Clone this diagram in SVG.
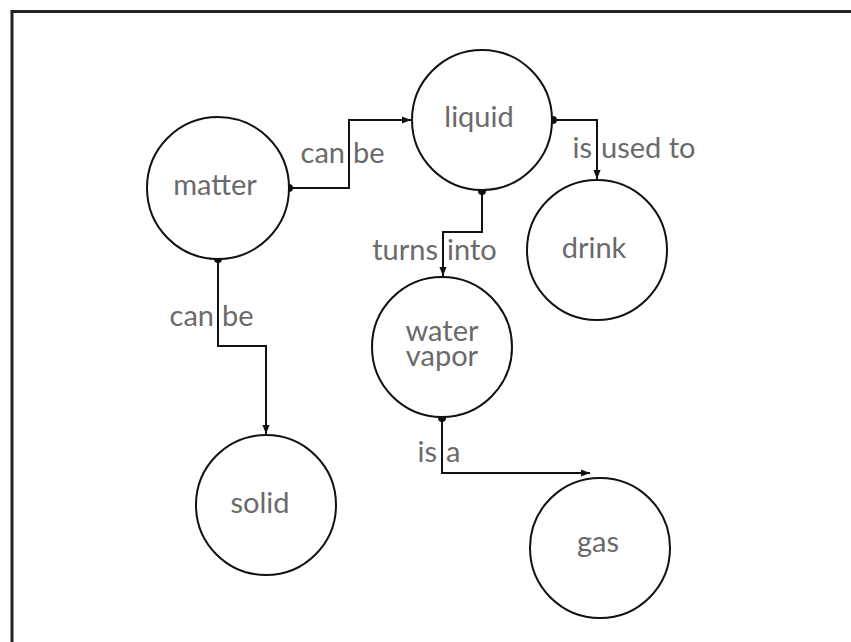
<svg xmlns="http://www.w3.org/2000/svg" width="851" height="642" viewBox="0 0 851 642">
<defs>
<style>
.node circle{fill:#fff;stroke:#111;stroke-width:2}
text{font-family:Lato,"Noto Sans","Liberation Sans",sans-serif;font-size:29px;fill:#6a6a6a}
.node text{text-anchor:middle}
.l{text-anchor:end}
.edge{fill:none;stroke:#111;stroke-width:2}
</style>
<marker id="arr" viewBox="0 0 10 10" refX="10" refY="5" markerWidth="9" markerHeight="9" markerUnits="userSpaceOnUse" orient="auto"><path d="M0,1 L10,5 L0,9 Z" fill="#111"/></marker>
<marker id="dot" viewBox="0 0 10 10" refX="5" refY="5" markerWidth="8" markerHeight="8" markerUnits="userSpaceOnUse"><circle cx="5" cy="5" r="5" fill="#111"/></marker>
</defs>
<rect width="851" height="642" fill="#fff"/>
<path d="M12,650 V11.5 H860" fill="none" stroke="#222" stroke-width="3"/>
<g id="connectors">
<path class="edge" d="M289,188 H349 V120 H411" marker-start="url(#dot)" marker-end="url(#arr)"/>
<path class="edge" d="M553,120 H597 V179" marker-start="url(#dot)" marker-end="url(#arr)"/>
<path class="edge" d="M218,259 V346 H266 V434" marker-start="url(#dot)" marker-end="url(#arr)"/>
<path class="edge" d="M482,191 V232 H443 V276" marker-start="url(#dot)" marker-end="url(#arr)"/>
<path class="edge" d="M442,418 V473 H590" marker-start="url(#dot)" marker-end="url(#arr)"/>
<text class="l" x="345" y="163">can</text><text x="353" y="163">be</text>
<text class="l" x="592" y="158">is</text><text x="601" y="158">used to</text>
<text class="l" x="214" y="326">can</text><text x="222" y="326">be</text>
<text class="l" x="438" y="260">turns</text><text x="447" y="260">into</text>
<text class="l" x="437" y="462">is</text><text x="446" y="462">a</text>
</g>
<g id="matter" class="node"><circle cx="218" cy="188" r="71"/><text x="215" y="195">matter</text></g>
<g id="liquid" class="node"><circle cx="482" cy="120" r="70"/><text x="479" y="127">liquid</text></g>
<g id="drink" class="node"><circle cx="597" cy="250" r="70"/><text x="594" y="258">drink</text></g>
<g id="water-vapor" class="node"><circle cx="442" cy="347" r="70"/><text x="442" y="341">water</text><text x="442" y="366">vapor</text></g>
<g id="solid" class="node"><circle cx="266" cy="505" r="70"/><text x="260" y="513">solid</text></g>
<g id="gas" class="node"><circle cx="600" cy="548" r="70"/><text x="598" y="552">gas</text></g>
</svg>
